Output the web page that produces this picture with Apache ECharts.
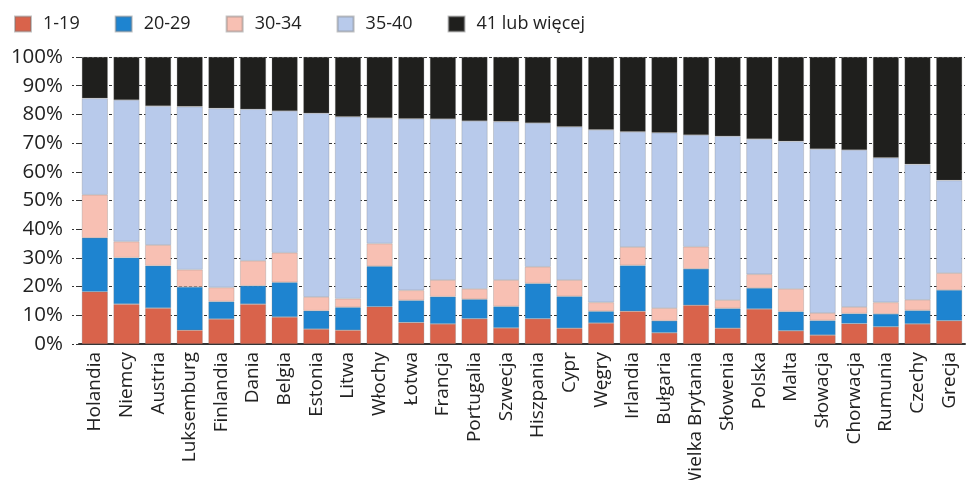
<!DOCTYPE html>
<html>
<head>
<meta charset="utf-8">
<script src="https://cdn.jsdelivr.net/npm/echarts@6/dist/echarts.min.js"></script>
<style>
  html, body { margin: 0; padding: 0; background: #fff; }
  #chart { width: 969px; height: 480px; }
</style>
</head>
<body>
<div id="chart"></div>
<script>
// Countries, in the order of the bars
const countries = ['Holandia', 'Niemcy', 'Austria', 'Luksemburg', 'Finlandia', 'Dania', 'Belgia', 'Estonia',
  'Litwa', 'Włochy', 'Łotwa', 'Francja', 'Portugalia', 'Szwecja', 'Hiszpania', 'Cypr', 'Węgry', 'Irlandia',
  'Bułgaria', 'Wielka Brytania', 'Słowenia', 'Polska', 'Malta', 'Słowacja', 'Chorwacja', 'Rumunia', 'Czechy', 'Grecja'];

// Share of employees (%) by weekly working hours
const h1_19 = [18.2, 13.9, 12.5, 4.8, 8.7, 13.9, 9.4, 5.2, 4.8, 13.0, 7.5, 7.0, 8.8, 5.6, 8.8, 5.5, 7.3, 11.4,
  3.9, 13.5, 5.5, 12.2, 4.6, 3.1, 7.1, 6.0, 7.0, 8.1];
const h20_29 = [18.8, 16.2, 14.8, 15.1, 6.1, 6.4, 12.1, 6.4, 8.0, 14.1, 7.7, 9.5, 6.8, 7.5, 12.3, 11.1, 4.1, 16.0,
  4.2, 12.7, 6.9, 7.3, 6.7, 5.1, 3.5, 4.5, 4.7, 10.7];
const h30_34 = [15.0, 5.6, 7.2, 6.0, 4.9, 8.7, 10.3, 4.8, 3.0, 7.9, 3.5, 5.8, 3.6, 9.2, 5.8, 5.7, 3.1, 6.4,
  4.4, 7.7, 2.9, 4.8, 7.9, 2.6, 2.3, 4.0, 3.7, 5.9];
const h35_40 = [33.6, 49.3, 48.4, 56.8, 62.4, 52.8, 49.4, 64.0, 63.4, 43.7, 59.8, 56.1, 58.5, 55.2, 50.1, 53.4, 60.1, 40.1,
  61.1, 38.9, 57.1, 47.1, 51.4, 57.1, 54.7, 50.4, 47.2, 32.3];
const h41plus = [14.4, 15.0, 17.1, 17.3, 17.9, 18.2, 18.8, 19.6, 20.8, 21.3, 21.5, 21.6, 22.3, 22.5, 23.0, 24.3, 25.4, 26.1,
  26.4, 27.2, 27.6, 28.6, 29.4, 32.1, 32.4, 35.1, 37.4, 43.0];

const seriesNames = ['1-19', '20-29', '30-34', '35-40', '41 lub więcej'];
const seriesData = [h1_19, h20_29, h30_34, h35_40, h41plus];
const colors = ['#D9634B', '#1E84D0', '#F8C0B3', '#B8CAEB', '#1F1F1D'];

const FONT = '"Open Sans", "Noto Sans", sans-serif';

const chart = echarts.init(document.getElementById('chart'), null, { renderer: 'canvas' });
chart.setOption({
  animation: false,
  color: colors,
  textStyle: { fontFamily: FONT },
  legend: {
    left: 9,
    top: 10,
    itemWidth: 16,
    itemHeight: 15,
    itemGap: 35,
    icon: 'rect',
    textStyle: { fontSize: 18, color: '#222', fontFamily: FONT, padding: [0, 0, 0, 7] },
    data: seriesNames
  },
  grid: { left: 79, right: 4, top: 57, bottom: 136, containLabel: false, outerBoundsMode: 'none' },
  xAxis: {
    type: 'category',
    data: countries,
    axisLine: { lineStyle: { color: '#333', width: 2 } },
    axisTick: { show: false },
    axisLabel: { rotate: 90, fontSize: 19, color: '#222', margin: 8, interval: 0, fontFamily: FONT }
  },
  yAxis: {
    type: 'value',
    min: 0,
    max: 100,
    interval: 10,
    axisLine: { show: false },
    axisTick: { show: true, length: 7, lineStyle: { color: '#333', type: [3, 2] } },
    axisLabel: { formatter: '{value}%', fontSize: 20.5, color: '#222', margin: 16, fontFamily: FONT },
    splitLine: { lineStyle: { color: '#333', type: [3, 2], width: 1 } }
  },
  series: seriesNames.map((name, i) => ({
    name: name,
    type: 'bar',
    stack: 'total',
    barCategoryGap: '18%',
    itemStyle: { color: colors[i], borderColor: 'rgba(120,120,120,0.45)', borderWidth: 0.6 },
    data: seriesData[i]
  }))
});
</script>
</body>
</html>
